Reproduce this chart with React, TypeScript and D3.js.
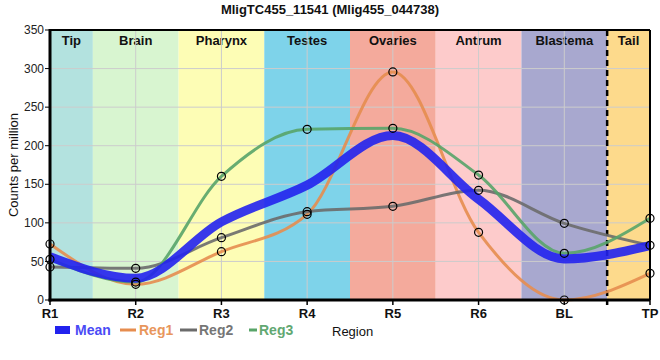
import React from "react";
import * as d3 from "d3";

const regions = ["R1", "R2", "R3", "R4", "R5", "R6", "BL", "TP"];
const bandNames = ["Tip", "Brain", "Pharynx", "Testes", "Ovaries", "Antrum", "Blastema", "Tail"];
const bandColors = ["#b3e2df", "#d8f5d0", "#fdfdb5", "#7ed3ea", "#f4aa9c", "#fdcbcb", "#a8a8cf", "#fdda8c"];
const reg1 = [72.6, 20.3, 62.7, 111.1, 295.6, 87.7, 0, 34.6];
const reg2 = [42.8, 41.0, 80.8, 114.5, 121.4, 142.2, 99.4, 70.9];
const reg3 = [52.7, 23.3, 160.3, 221.2, 222.5, 162.0, 60.5, 105.9];
const yTicks = [0, 50, 100, 150, 200, 250, 300, 350];
const title = "MligTC455_11541 (Mlig455_044738)";

const W = 660, H = 360;
const m = { left: 50, right: 10, top: 30, bottom: 60 };

export default function App() {
  const x = d3.scalePoint<string>().domain(regions).range([m.left, W - m.right]);
  const y = d3.scaleLinear().domain([0, 350]).range([H - m.bottom, m.top]);
  const step = x.step();
  const mean = regions.map((_, i) => (reg1[i] + reg2[i] + reg3[i]) / 3);
  const line = d3
    .line<number>()
    .x((_, i) => x(regions[i])!)
    .y((d) => y(d))
    .curve(d3.curveMonotoneX);
  const series = [
    { name: "Reg1", data: reg1, color: "#e68d4f" },
    { name: "Reg2", data: reg2, color: "#6b6b6b" },
    { name: "Reg3", data: reg3, color: "#58a469" },
  ];
  const font = "Arial, 'Liberation Sans', sans-serif";
  const y0 = y(0), y1 = y(350);
  return (
    <svg width={W} height={H} style={{ position: "absolute", left: 0, top: 0, fontFamily: font }}>
      <rect width={W} height={H} fill="#fff" />
      {bandNames.map((b, i) => {
        const cx = x(regions[i])!;
        const x0 = i === 0 ? m.left : cx - step / 2;
        const x1 = i === bandNames.length - 1 ? W - m.right : cx + step / 2;
        return (
          <g key={b}>
            <rect x={x0} y={y1} width={x1 - x0} height={y0 - y1} fill={bandColors[i]} />
            <text x={(x0 + x1) / 2} y={y1 + 15} textAnchor="middle" fontSize={13} fontWeight="bold" fill="#111">
              {b}
            </text>
          </g>
        );
      })}
      {yTicks.map((t) => (
        <g key={t}>
          <line x1={m.left} x2={W - m.right} y1={y(t)} y2={y(t)} stroke="#cccccc" strokeWidth={1} />
          <line x1={m.left - 5} x2={m.left} y1={y(t)} y2={y(t)} stroke="#000" strokeWidth={1} />
          <text x={m.left - 6} y={y(t)} dy="0.35em" textAnchor="end" fontSize={12} fill="#222">
            {t}
          </text>
        </g>
      ))}
      {regions.map((r) => (
        <g key={r}>
          <line x1={x(r)} x2={x(r)} y1={y1} y2={y0} stroke="#cccccc" strokeWidth={1} />
          <line x1={x(r)} x2={x(r)} y1={y0} y2={y0 + 5} stroke="#000" strokeWidth={1.5} />
          <text x={x(r)} y={y0 + 18} textAnchor="middle" fontSize={13} fontWeight="bold" fill="#111">
            {r}
          </text>
        </g>
      ))}
      <line
        x1={x("BL")! + step / 2}
        x2={x("BL")! + step / 2}
        y1={y1}
        y2={y0 + 5}
        stroke="#000"
        strokeWidth={2.5}
        strokeDasharray="6,4"
      />
      {series.map((s) => (
        <path key={s.name} d={line(s.data)!} fill="none" stroke={s.color} strokeWidth={3} strokeOpacity={0.9} />
      ))}
      <path d={line(mean)!} fill="none" stroke="#2222ee" strokeWidth={9} strokeOpacity={0.9} />
      {series.map((s) =>
        s.data.map((v, i) => (
          <circle key={s.name + i} cx={x(regions[i])} cy={y(v)} r={4} fill="none" stroke="#000" strokeWidth={1.2} />
        ))
      )}
      <line x1={m.left} x2={W - m.right} y1={y1} y2={y1} stroke="#000" strokeWidth={2} />
      <line x1={W - m.right} x2={W - m.right} y1={y1} y2={y0} stroke="#000" strokeWidth={2} />
      <line x1={m.left} x2={m.left} y1={y1 - 1} y2={y0 + 1.5} stroke="#000" strokeWidth={3} />
      <line x1={m.left - 1.5} x2={W - m.right} y1={y0} y2={y0} stroke="#000" strokeWidth={3} />
      <text x={W / 2} y={14} textAnchor="middle" fontSize={13} fontWeight="bold" fill="#111">
        {title}
      </text>
      <text
        transform={`translate(18,${(y0 + y1) / 2}) rotate(-90)`}
        textAnchor="middle"
        fontSize={13}
        fill="#111"
      >
        Counts per million
      </text>
      <g fontSize={14} fontWeight="bold">
        <rect x={55} y={326} width={15} height={8} fill="#2222ee" />
        <text x={75} y={335} fill="#4a4af5">Mean</text>
        <line x1={120} x2={136} y1={330} y2={330} stroke="#e68d4f" strokeWidth={3} />
        <text x={139} y={335} fill="#e8965c">Reg1</text>
        <line x1={180} x2={197} y1={330} y2={330} stroke="#6b6b6b" strokeWidth={3} />
        <text x={199} y={335} fill="#767676">Reg2</text>
        <line x1={249} x2={257} y1={330} y2={330} stroke="#58a469" strokeWidth={3} />
        <text x={259} y={335} fill="#62a872">Reg3</text>
      </g>
      <text x={332} y={336} fontSize={13} fill="#111">Region</text>
    </svg>
  );
}
